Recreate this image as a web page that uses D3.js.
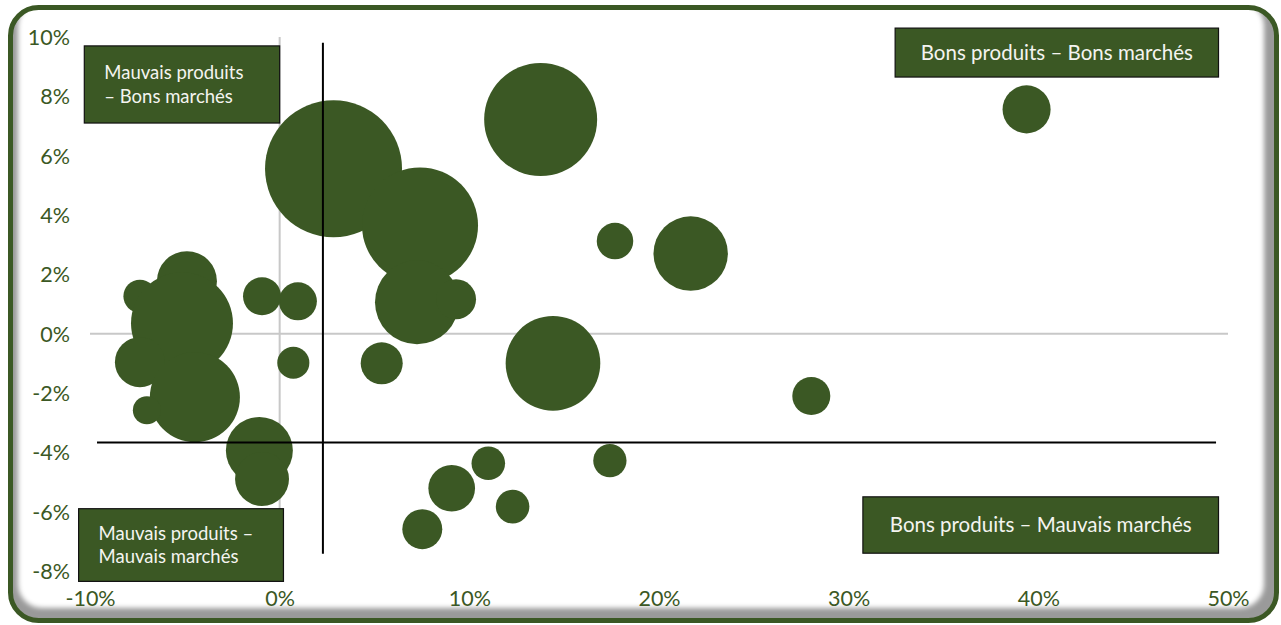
<!DOCTYPE html>
<html>
<head>
<meta charset="utf-8">
<script src="https://cdn.jsdelivr.net/npm/d3@7"></script>
<style>
  html, body { margin: 0; padding: 0; background: #ffffff; }
  svg { display: block; }
  text { font-family: Lato, "Open Sans", sans-serif; }
</style>
</head>
<body>
<svg id="chart" width="1281" height="625"></svg>
<script>
// Croissance du marché (x, %) vs performance produit (y, %), taille = poids
const products = ["P1","P2","P3","P4","P5","P6","P7","P8","P9","P10","P11","P12","P13","P14",
                  "P15","P16","P17","P18","P19","P20","P21","P22","P23","P24","P25","P26","P27"];
const xValues = [39.38, 13.76, 2.84, 7.40, 17.68, 21.67, 7.24, 9.30, 0.96, -0.93, -4.89, -7.37, -5.15, -7.37,
                 -4.47, -7.00, 0.72, 5.38, 14.41, 28.03, -1.07, -0.93, 17.41, 11.00, 9.07, 12.28, 7.52];
const yValues = [7.56, 7.22, 5.56, 3.65, 3.12, 2.70, 1.06, 1.16, 1.09, 1.26, 1.77, 1.26, 0.35, -0.96,
                 -2.14, -2.58, -0.98, -1.00, -1.00, -2.10, -3.94, -4.90, -4.28, -4.37, -5.21, -5.83, -6.59];
const sizes   = [12.3, 68.0, 100, 71.7, 7.1, 29.5, 37.6, 8.5, 7.7, 7.7, 19.2, 5.8, 55.4, 13.3,
                 43.2, 4.2, 5.5, 9.4, 47.7, 7.7, 23.9, 15.5, 5.9, 6.0, 11.6, 6.0, 8.5];

const xTicks = [-10, 0, 10, 20, 30, 40, 50];
const yTicks = [-8, -6, -4, -2, 0, 2, 4, 6, 8, 10];

// Seuils de séparation des quadrants
const splitX = 2.28;
const splitY = -3.67;
const splitXSpan = [-7.42, 9.81];
const splitYSpan = [-9.63, 49.37];

const quadrantLabels = [
  { lines: ["Mauvais produits", "– Bons marchés"], box: [-10.3, 9.7, 0, 7.1], align: "start" },
  { lines: ["Bons produits – Bons marchés"], box: [32.45, 10.3, 49.5, 8.65], align: "middle" },
  { lines: ["Mauvais produits –", "Mauvais marchés"], box: [-10.6, -5.9, 0.2, -8.35], align: "start" },
  { lines: ["Bons produits – Mauvais marchés"], box: [30.75, -5.5, 49.5, -7.4], align: "middle" }
];

const green = "#3b5824";
const svg = d3.select("#chart");

// Cadre arrondi avec ombre intérieure
const defs = svg.append("defs");
defs.append("filter").attr("id", "soft").attr("x", "-5%").attr("y", "-5%").attr("width", "110%").attr("height", "110%")
  .append("feGaussianBlur").attr("stdDeviation", 2.5);
defs.append("clipPath").attr("id", "frameClip")
  .append("rect").attr("x", 10).attr("y", 7).attr("width", 1267).attr("height", 614).attr("rx", 28);

const frame = svg.append("g").attr("clip-path", "url(#frameClip)");
frame.append("rect").attr("x", 10).attr("y", 7).attr("width", 1267).attr("height", 614).attr("fill", "#9a9a9a");
frame.append("rect").attr("x", 18).attr("y", 2).attr("width", 1246).attr("height", 606).attr("rx", 24)
  .attr("fill", "#ffffff").attr("filter", "url(#soft)");
svg.append("rect").attr("x", 10.5).attr("y", 7.5).attr("width", 1266).attr("height", 613).attr("rx", 28)
  .attr("fill", "none").attr("stroke", green).attr("stroke-width", 5);

// Échelles
const x = d3.scaleLinear().domain([-10, 50]).range([90, 1228]);
const y = d3.scaleLinear().domain([-8, 10]).range([571, 37]);
const r = d3.scaleSqrt().domain([0, 100]).range([0, 68.5]);

// Axes (libellés seulement)
const fmt = d => d + "%";
const yAxis = d3.axisLeft(y).tickValues(yTicks).tickFormat(fmt).tickSize(0).tickPadding(0);
const xAxis = d3.axisBottom(x).tickValues(xTicks).tickFormat(fmt).tickSize(0).tickPadding(0);

const gy = svg.append("g").attr("transform", "translate(70,0)").call(yAxis);
gy.select(".domain").remove();
gy.selectAll("text").attr("fill", green).attr("font-size", 21.5).attr("dy", "0.35em");

const gx = svg.append("g").attr("transform", "translate(0,598)").call(xAxis);
gx.select(".domain").remove();
gx.selectAll("text").attr("fill", green).attr("font-size", 21.5).attr("dy", "0.35em");

// Lignes de zéro
svg.append("line").attr("x1", x(0)).attr("x2", x(0)).attr("y1", y(10)).attr("y2", y(-8))
  .attr("stroke", "#c8c8c8").attr("stroke-width", 2);
svg.append("line").attr("x1", x(-10)).attr("x2", x(50)).attr("y1", y(0)).attr("y2", y(0))
  .attr("stroke", "#c8c8c8").attr("stroke-width", 2);

// Bulles
const data = products.map((p, i) => ({ name: p, x: xValues[i], y: yValues[i], s: sizes[i] }));
svg.append("g").selectAll("circle").data(data).join("circle")
  .attr("cx", d => x(d.x)).attr("cy", d => y(d.y)).attr("r", d => r(d.s))
  .attr("fill", green);

// Séparateurs de quadrants
svg.append("line").attr("x1", x(splitX)).attr("x2", x(splitX))
  .attr("y1", y(splitXSpan[1])).attr("y2", y(splitXSpan[0]))
  .attr("stroke", "#000").attr("stroke-width", 2);
svg.append("line").attr("x1", x(splitYSpan[0])).attr("x2", x(splitYSpan[1]))
  .attr("y1", y(splitY)).attr("y2", y(splitY))
  .attr("stroke", "#000").attr("stroke-width", 2);

// Étiquettes de quadrants
quadrantLabels.forEach(q => {
  const [x0, y0, x1, y1] = q.box;
  const bx = x(x0), by = y(y0), bw = x(x1) - x(x0), bh = y(y1) - y(y0);
  const g = svg.append("g");
  g.append("rect").attr("x", bx).attr("y", by).attr("width", bw).attr("height", bh)
    .attr("fill", green).attr("stroke", "#111").attr("stroke-width", 1.2);
  const n = q.lines.length;
  const lh = 23.5;
  const cy = by + bh / 2;
  g.selectAll("text").data(q.lines).join("text")
    .attr("x", q.align === "middle" ? bx + bw / 2 : bx + 20)
    .attr("y", (d, i) => cy + (i - (n - 1) / 2) * lh)
    .attr("dy", "0.35em")
    .attr("text-anchor", q.align)
    .attr("fill", "#f4f4f0")
    .attr("font-size", n > 1 ? 18.5 : 20.5)
    .text(d => d);
});
</script>
</body>
</html>
